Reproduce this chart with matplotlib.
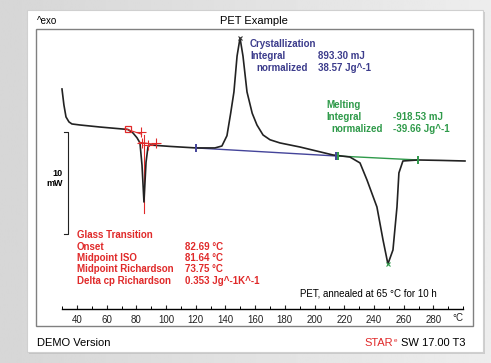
import numpy as np
import matplotlib.pyplot as plt
from matplotlib.patches import Rectangle

W, H = 491, 363

# DSC curve, temperature (°C) vs heat flow (mW, exo up)
temp = [29.9, 31.2, 32.6, 34.6, 36.6, 42.0, 55.5, 74.3, 77.7, 80.4, 82.4, 83.8,
        85.1, 86.5, 87.8, 89.2, 102.6, 120.1, 132.9, 137.6, 141.0, 143.5, 145.7,
        147.8, 149.8, 151.8, 154.5, 158.0, 161.2, 165.3, 170.0, 176.7, 190.2,
        212.4, 223.8, 230.6, 235.3, 242.0, 246.1, 249.4, 252.8, 255.5, 256.8,
        259.5, 269.6, 284.4, 301.3]
heat = [5.98, 4.41, 3.24, 2.75, 2.55, 2.45, 2.25, 2.01, 1.67, 1.20, 0.70, -1.5,
        -5.10, -1.2, 0.29, 0.49, 0.35, 0.20, 0.20, 0.39, 1.40, 3.60, 5.69,
        9.20, 10.98, 9.20, 5.69, 3.60, 2.45, 1.47, 1.00, 0.69, 0.29,
        -0.49, -0.69, -1.27, -2.94, -5.59, -8.82, -11.18, -9.80, -5.59, -2.25,
        -1.08, -0.98, -1.02, -1.08]

xticks = list(range(40, 300, 20))
minor = list(range(30, 301, 10))

cryst_base_t = [120.1, 214.5]
cryst_base_h = [0.20, -0.59]
melt_base_t = [215.5, 269.6]
melt_base_h = [-0.59, -0.98]
cryst_peak = (149.8, 10.98)
melt_peak = (249.4, -11.18)

# glass transition construction
tg_tan_t = [72.0, 83.5]
tg_tan_h = [2.10, 1.55]
tg_low_t = [82.0, 93.0]
tg_low_h = [0.75, 0.55]
tg_cross_t = [83.0, 83.5, 87.5, 93.5]
tg_cross_h = [1.75, 0.70, 0.45, 0.65]
tg_vline_t = [85.1, 85.1]
tg_vline_h = [1.5, -6.2]
tg_circle = (74.3, 2.01)

glass_labels = ["Onset", "Midpoint ISO", "Midpoint Richardson", "Delta cp Richardson"]
glass_values = ["82.69 °C", "81.64 °C", "73.75 °C", "0.353 Jg^-1K^-1"]


def px(x, y):
    return x / W, 1 - y / H


fig = plt.figure(figsize=(W / 100, H / 100), dpi=100)
plt.rcParams['font.family'] = ['Liberation Sans', 'DejaVu Sans']

# grey backdrop
bg = fig.add_axes([0, 0, 1, 1])
grad = np.linspace(0.84, 0.93, 256).reshape(1, -1)
bg.imshow(grad, aspect='auto', cmap='gray', vmin=0, vmax=1, extent=[0, 1, 0, 1])
bg.set_xlim(0, 1)
bg.set_ylim(0, 1)
bg.axis('off')

# card and shadow
x0, y0 = px(27, 352)
bg.add_patch(Rectangle((x0 + 0.004, y0 - 0.006), 456 / W, 342 / H,
                       facecolor='#b8b8b8', edgecolor='none', alpha=0.6))
bg.add_patch(Rectangle((x0, y0), 456 / W, 342 / H, facecolor='white',
                       edgecolor='#d0d0d0', lw=0.8))
bx, by = px(36, 326)
bg.add_patch(Rectangle((bx, by), 437 / W, 297 / H, facecolor='none',
                       edgecolor='#808080', lw=1.0))

# main axes
ax = fig.add_axes([36 / W, 1 - 309 / H, 437 / W, 280 / H])
ax.patch.set_alpha(0)
ax.set_xlim(12.4, 306.7)
ax.set_ylim(-15.59, 11.86)
for s in ['top', 'left', 'right']:
    ax.spines[s].set_visible(False)
ax.spines['bottom'].set_bounds(30, 300)
ax.spines['bottom'].set_linewidth(1.0)
ax.set_yticks([])
ax.set_xticks(xticks)
ax.set_xticks(minor, minor=True)
ax.tick_params(axis='x', which='major', length=3, width=0.8, direction='in',
               labelsize=7, pad=4, colors='#222222')
ax.tick_params(axis='x', which='minor', length=2, width=0.7, direction='in')
fig.text(*px(458, 318), '°C', fontsize=7, ha='center', va='center', color='#222222')

ax.plot(temp, heat, color='#222222', lw=1.2, zorder=3)
ax.plot(cryst_base_t, cryst_base_h, color='#44449a', lw=1.0, zorder=2)
ax.plot(melt_base_t, melt_base_h, color='#2f9a4a', lw=1.0, zorder=2)
ax.plot(cryst_base_t, cryst_base_h, ls='none', marker='|', ms=6, mew=1.4,
        color='#44449a', zorder=4)
ax.plot(melt_base_t, melt_base_h, ls='none', marker='|', ms=6, mew=1.4,
        color='#2f9a4a', zorder=4)
ax.plot(*cryst_peak, marker='x', ms=3, mew=0.8, color='#333333', zorder=4)
ax.plot(*melt_peak, marker='x', ms=3, mew=0.8, color='#2f9a4a', zorder=4)

red = '#e02a2a'
ax.plot(tg_tan_t, tg_tan_h, color=red, lw=0.8, zorder=4)
ax.plot(tg_low_t, tg_low_h, color=red, lw=0.8, zorder=4)
ax.plot(tg_cross_t, tg_cross_h, ls='none', marker='+', ms=7, mew=0.8,
        color=red, zorder=4)
ax.plot(tg_vline_t, tg_vline_h, color=red, lw=0.8, zorder=2)
ax.plot(*tg_circle, marker='s', ms=4, mfc='none', mew=0.9, color=red, zorder=4)

# 10 mW scale bar
sy = 132
ax_scale = [px(64, sy), px(68, sy), px(68, sy + 102), px(64, sy + 102)]
bg.plot([p[0] for p in ax_scale], [p[1] for p in ax_scale], color='#222222', lw=0.8)
fig.text(*px(63, 174), '10', ha='right', va='center', fontsize=6.5, weight='bold')
fig.text(*px(63, 184), 'mW', ha='right', va='center', fontsize=6.5, weight='bold')

# header / footer
fig.text(*px(37, 21), '^exo', ha='left', va='center', fontsize=7)
fig.text(*px(254, 21), 'PET Example', ha='center', va='center', fontsize=8)
fig.text(*px(37, 343), 'DEMO Version', ha='left', va='center', fontsize=8)
fig.text(*px(401, 343), 'SW 17.00 T3', ha='left', va='center', fontsize=8)
fig.text(*px(393, 343), 'STAR', ha='right', va='center', fontsize=8, color=red)
fig.text(*px(394, 340), 'e', ha='left', va='center', fontsize=4.5, color=red)
fig.text(*px(437, 294), 'PET, annealed at 65 °C for 10 h', ha='right',
         va='center', fontsize=7)

fs = 7
# crystallization block
blue = '#3c3c8c'
fig.text(*px(250, 44), 'Crystallization', fontsize=fs, weight='bold', color=blue, va='center')
fig.text(*px(250, 56), 'Integral', fontsize=fs, weight='bold', color=blue, va='center')
fig.text(*px(318, 56), '893.30 mJ', fontsize=fs, weight='bold', color=blue, va='center')
fig.text(*px(256, 68), 'normalized', fontsize=fs, weight='bold', color=blue, va='center')
fig.text(*px(318, 68), '38.57 Jg^-1', fontsize=fs, weight='bold', color=blue, va='center')

# melting block
green = '#2f9a4a'
fig.text(*px(326, 105), 'Melting', fontsize=fs, weight='bold', color=green, va='center')
fig.text(*px(326, 117), 'Integral', fontsize=fs, weight='bold', color=green, va='center')
fig.text(*px(393, 117), '-918.53 mJ', fontsize=fs, weight='bold', color=green, va='center')
fig.text(*px(331, 129), 'normalized', fontsize=fs, weight='bold', color=green, va='center')
fig.text(*px(393, 129), '-39.66 Jg^-1', fontsize=fs, weight='bold', color=green, va='center')

# glass transition block
fig.text(*px(77, 235), 'Glass Transition', fontsize=fs, weight='bold', color=red, va='center')
for i, (lab, val) in enumerate(zip(glass_labels, glass_values)):
    yy = 246.5 + i * 11.5
    fig.text(*px(77, yy), lab, fontsize=fs, weight='bold', color=red, va='center')
    fig.text(*px(185, yy), val, fontsize=fs, weight='bold', color=red, va='center')

fig.savefig('out.png', dpi=100)
